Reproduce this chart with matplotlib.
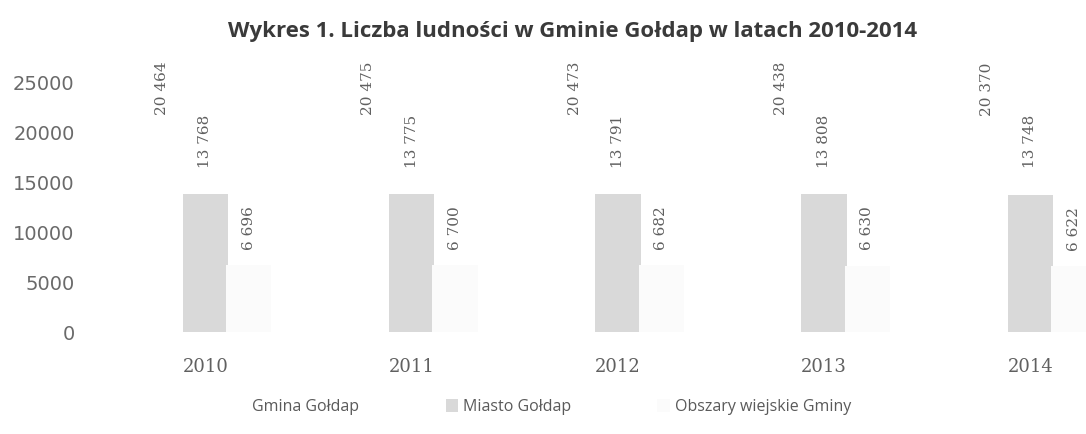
# biblioteki
import numpy as np
import matplotlib.pyplot as plt
from matplotlib.patches import Patch

# dane
lata = ['2010', '2011', '2012', '2013', '2014']
gmina = [20464, 20475, 20473, 20438, 20370]
miasto = [13768, 13775, 13791, 13808, 13748]
wies = [6696, 6700, 6682, 6630, 6622]
serie = ['Gmina Gołdap', 'Miasto Gołdap', 'Obszary wiejskie Gminy']

kolory = ['#ffffff', '#d9d9d9', '#fbfbfb']
odsuniecia = [9, 19, 11]  # odstep etykiety od slupka (pt)
szary = '#606060'


# format liczby ze spacja
def formatuj(v):
    return f"{v:,}".replace(",", " ")


fig = plt.figure(figsize=(10.86, 4.34), dpi=100)
ax = fig.add_axes([90 / 1086, 102 / 434, 1 - 90 / 1086, 300 / 434])

x = np.arange(len(lata))
szer = 0.22
odst = 0.21

for i, (dane, kolor) in enumerate(zip([gmina, miasto, wies], kolory)):
    poz = x + (i - 1) * odst
    ax.bar(poz, dane, width=szer, color=kolor, edgecolor='none')
    for p, v in zip(poz, dane):
        ax.annotate(formatuj(v), (p, v), xytext=(0, odsuniecia[i]), textcoords='offset points',
                    rotation=90, ha='center', va='bottom', fontsize=11,
                    family='DejaVu Serif', color=szary)

ax.set_xlim(-0.56, 4.27)
ax.set_ylim(0, 30000)
ax.set_yticks(range(0, 30000, 5000))
ax.set_xticks(x)
ax.set_xticklabels(lata, family='DejaVu Serif', fontsize=13, color=szary)
ax.tick_params(axis='x', length=0, pad=19)
ax.tick_params(axis='y', length=0, pad=11, labelsize=14, labelcolor='#6a6a6a')
for sp in ax.spines.values():
    sp.set_visible(False)

# tytul
fig.text(573 / 1086, 1 - 31 / 434, 'Wykres 1. Liczba ludności w Gminie Gołdap w latach 2010-2014',
         ha='center', va='center', fontsize=16, fontweight='bold',
         family='Open Sans', color='#3a3a3a')

# legenda
uchwyty = [Patch(facecolor=k, edgecolor='none') for k in kolory]
fig.legend(uchwyty, serie, loc='center', bbox_to_anchor=(0.5, 27 / 434), ncol=3,
           frameon=False, prop={'family': 'Open Sans', 'size': 11.5},
           labelcolor='#5a5a5a', handlelength=0.8, handleheight=0.8,
           handletextpad=0.3, columnspacing=5.4)

fig.savefig('out.png', dpi=100)
